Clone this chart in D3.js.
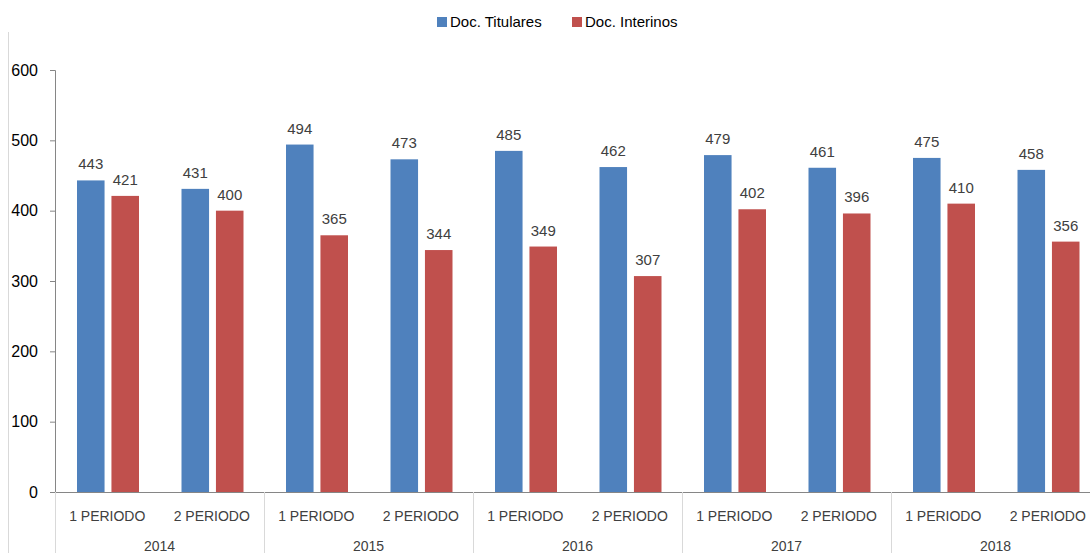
<!DOCTYPE html>
<html><head><meta charset="utf-8">
<script src="https://cdn.jsdelivr.net/npm/d3@7"></script>
<style>body{margin:0;background:#fff}svg{display:block;font-family:"Liberation Sans",Arial,sans-serif}</style>
</head><body><svg id="c" width="1090" height="553"></svg>
<script>
const years = ["2014","2015","2016","2017","2018"];
const periods = ["1 PERIODO","2 PERIODO"];
const series = ["Doc. Titulares","Doc. Interinos"];
const titulares = [443,431,494,473,485,462,479,461,475,458];
const interinos = [421,400,365,344,349,307,402,396,410,356];
const yTicks = [0,100,200,300,400,500,600];
const colors = ["#4F81BD","#C0504D"];

const svg = d3.select("#c");
const left = 55, slotW = 104.5, y0 = 492, yTop = 70;
const slots = [];
years.forEach(y => periods.forEach(p => slots.push(y + "|" + p)));
const x = d3.scaleBand().domain(slots).range([left, left + slots.length * slotW]).padding(0);
const xYear = d3.scaleBand().domain(years).range([left, left + slots.length * slotW]).padding(0);
const xs = d3.scaleBand().domain(series).range([22, 84]).paddingInner(0.2);
const y = d3.scaleLinear().domain([0, 600]).range([y0, yTop]);

// left border line
svg.append("line").attr("x1", 8.5).attr("x2", 8.5).attr("y1", 32).attr("y2", 553).attr("stroke", "#d9d9d9");

// bars
const vals = [titulares, interinos];
series.forEach((s, si) => {
  const g = svg.append("g");
  g.selectAll("rect").data(vals[si]).join("rect")
    .attr("x", (d, i) => x(slots[i]) + xs(s))
    .attr("width", xs.bandwidth())
    .attr("y", d => y(d))
    .attr("height", d => y0 - y(d))
    .attr("fill", colors[si]);
  g.selectAll("text").data(vals[si]).join("text")
    .attr("x", (d, i) => x(slots[i]) + xs(s) + xs.bandwidth() / 2)
    .attr("y", d => y(d) - 11)
    .attr("text-anchor", "middle")
    .attr("font-size", 15).attr("fill", "#404040")
    .text(d => d);
});

// y axis
const yAxis = d3.axisLeft(y).tickValues(yTicks).tickSize(5).tickFormat(d3.format("d"));
const ya = svg.append("g").attr("transform", `translate(${left},0)`).call(yAxis);
ya.select(".domain").attr("stroke", "#868686");
ya.selectAll(".tick line").attr("stroke", "#868686");
ya.selectAll(".tick text").attr("x", -17).attr("font-size", 16).attr("fill", "#000").attr("font-family", "Liberation Sans, Arial, sans-serif");

// x axis
svg.append("line").attr("x1", left).attr("x2", 1090).attr("y1", y0 + 0.5).attr("y2", y0 + 0.5).attr("stroke", "#868686");
const xa = d3.axisBottom(x).tickSize(0).tickFormat(d => d.split("|")[1]);
const xg = svg.append("g").attr("transform", `translate(0,${y0})`).call(xa);
xg.select(".domain").remove();
xg.selectAll(".tick text").attr("dy", 0).attr("y", 29).attr("font-size", 14).attr("fill", "#404040").attr("font-family", "Liberation Sans, Arial, sans-serif");
// year labels
svg.append("g").selectAll("text").data(years).join("text")
  .attr("x", d => xYear(d) + xYear.bandwidth() / 2)
  .attr("y", 553 - 2)
  .attr("text-anchor", "middle").attr("font-size", 14).attr("fill", "#404040")
  .text(d => d);
// group separators
svg.append("g").selectAll("line").data(years.concat(["end"])).join("line")
  .attr("x1", (d, i) => Math.round(left + i * xYear.bandwidth()) + 0.5)
  .attr("x2", (d, i) => Math.round(left + i * xYear.bandwidth()) + 0.5)
  .attr("y1", y0).attr("y2", 553)
  .attr("stroke", "#d9d9d9");

// legend
const leg = svg.append("g");
const legX = [437, 572];
series.forEach((s, i) => {
  leg.append("rect").attr("x", legX[i]).attr("y", 17).attr("width", 10).attr("height", 10).attr("fill", colors[i]);
  leg.append("text").attr("x", legX[i] + 13).attr("y", 27).attr("font-size", 15).attr("fill", "#000").text(s);
});
</script></body></html>
